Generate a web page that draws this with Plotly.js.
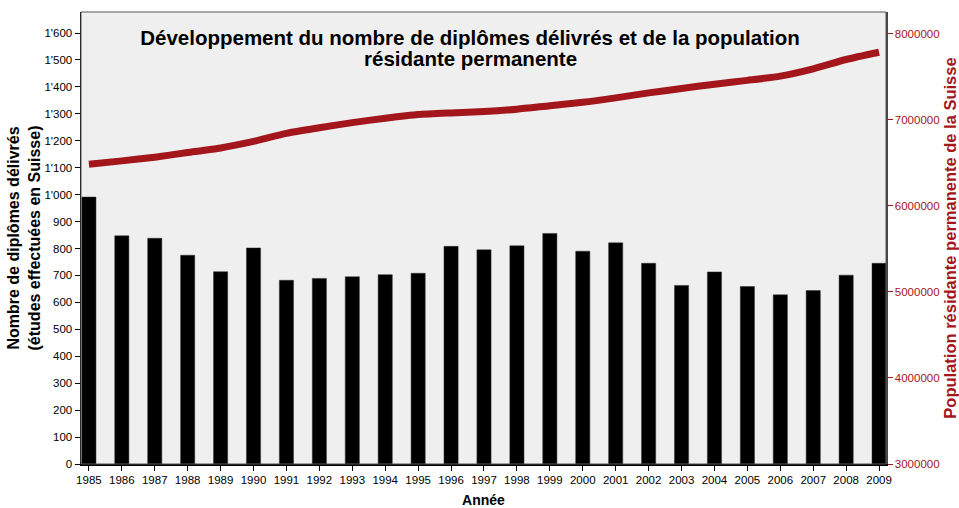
<!DOCTYPE html>
<html>
<head>
<meta charset="utf-8">
<script src="https://cdn.plot.ly/plotly-3.0.1.min.js"></script>
<style>html,body{margin:0;padding:0;background:#fff;}#chart{width:959px;height:508px;}</style>
</head>
<body>
<div id="chart"></div>
<script>
const years = ['1985','1986','1987','1988','1989','1990','1991','1992','1993','1994','1995','1996','1997','1998','1999','2000','2001','2002','2003','2004','2005','2006','2007','2008','2009'];
const diplomes = [991,847,838,775,714,802,682,689,695,703,708,808,795,810,856,790,821,745,663,713,659,628,644,701,745];
const population = [6484834,6523413,6566799,6619973,6673850,6750693,6842768,6907959,6968570,7019019,7062354,7081346,7096465,7123537,7164444,7204055,7255653,7313853,7364148,7415102,7459128,7508739,7593494,7701856,7785806];

const RED = '#a3161b';
const FONT = 'Liberation Sans, Arial, sans-serif';

const traces = [
  {
    type: 'bar', x: years, y: diplomes, yaxis: 'y',
    width: 0.43,
    marker: {color: '#000000', line: {color: '#333333', width: 0.5}},
    hoverinfo: 'x+y', showlegend: false
  },
  {
    type: 'scatter', mode: 'lines', x: years, y: population, yaxis: 'y2',
    line: {color: RED, width: 7, shape: 'spline', smoothing: 0.6},
    showlegend: false
  }
];

const layout = {
  width: 959, height: 508,
  paper_bgcolor: '#ffffff', plot_bgcolor: '#efefef',
  margin: {l: 81, r: 73, t: 12, b: 44, pad: 0},
  font: {family: FONT, color: '#000'},
  separators: ".'",
  showlegend: false,
  title: {
    text: '<b>Développement du nombre de diplômes délivrés et de la population</b>',
    font: {family: FONT, size: 20.5, color: '#000'},
    xref: 'container', x: 470/959, xanchor: 'center',
    yref: 'container', y: 1 - 38/508, yanchor: 'middle'
  },
  annotations: [
    {
      text: '<b>résidante permanente</b>', showarrow: false,
      xref: 'paper', yref: 'paper', x: (470-81)/805, y: (464-58)/452,
      xanchor: 'center', yanchor: 'middle',
      font: {family: FONT, size: 20.5, color: '#000'}
    }
  ],
  xaxis: {
    type: 'category', range: [-0.24, 24.21],
    showline: true, linecolor: '#000', linewidth: 1.5, mirror: false,
    ticks: 'outside', ticklen: 5, tickcolor: '#000', tickwidth: 1,
    tickfont: {family: FONT, size: 11.5, color: '#000'},
    showgrid: false, zeroline: false,
    title: {text: '<b>Année</b>', font: {family: FONT, size: 14, color: '#000'}, standoff: 18},
    automargin: false
  },
  yaxis: {
    range: [0, 1678], dtick: 100, tick0: 0,
    separatethousands: true, tickformat: ',d',
    showline: true, linecolor: '#000', linewidth: 1.5,
    ticks: 'outside', ticklen: 5, tickcolor: '#000', tickwidth: 1,
    tickfont: {family: FONT, size: 11.5, color: '#000'},
    showgrid: false, zeroline: false,
    title: {text: '<b>Nombre de diplômes délivrés<br>(études effectuées en Suisse)</b>', font: {family: FONT, size: 16, color: '#000'}, standoff: 0},
    automargin: false
  },
  yaxis2: {
    overlaying: 'y', side: 'right',
    range: [3000000, 8254000], dtick: 1000000, tick0: 3000000,
    tickformat: 'd',
    showline: true, linecolor: '#444', linewidth: 1.5,
    ticks: 'outside', ticklen: 5, tickcolor: RED, tickwidth: 1,
    tickfont: {family: FONT, size: 11.5, color: RED},
    showgrid: false, zeroline: false,
    title: {text: '<b>Population résidante permanente de la Suisse</b>', font: {family: FONT, size: 16.5, color: RED}, standoff: 8},
    automargin: false
  },
  shapes: [
    {type: 'rect', xref: 'paper', yref: 'paper', x0: 0, x1: 1, y0: 0, y1: 1, line: {color: '#555', width: 1}, fillcolor: 'rgba(0,0,0,0)', layer: 'above'}
  ]
};

Plotly.newPlot('chart', traces, layout, {displayModeBar: false, staticPlot: true});
</script>
</body>
</html>
